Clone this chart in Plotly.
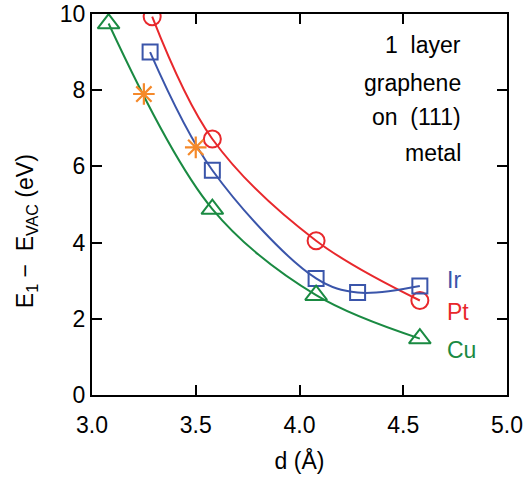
import plotly.graph_objects as go

# Data
pt_d = [3.29, 3.58, 4.08, 4.58]
pt_e = [9.93, 6.72, 4.05, 2.48]
ir_d = [3.28, 3.58, 4.08, 4.28, 4.58]
ir_e = [9.0, 5.9, 3.06, 2.69, 2.86]
cu_d = [3.08, 3.58, 4.08, 4.58]
cu_e = [9.75, 4.88, 2.62, 1.48]
star_d = [3.25, 3.50]
star_e = [7.9, 6.5]

RED = "#e8282c"
BLUE = "#3a55aa"
GREEN = "#1a8a42"
ORANGE = "#f5892a"
FONT = "Liberation Sans"

fig = go.Figure()

def add_series(x, y, color, symbol, size):
    fig.add_trace(go.Scatter(
        x=x, y=y, mode="lines+markers",
        line=dict(color=color, width=2, shape="spline", smoothing=1.0),
        marker=dict(symbol=symbol, size=size, color=color,
                    line=dict(color=color, width=2)),
        showlegend=False))

add_series(pt_d, pt_e, RED, "circle-open", 17)
add_series(ir_d, ir_e, BLUE, "square-open", 15)
add_series(cu_d, cu_e, GREEN, "triangle-up-open", 19)

fig.add_trace(go.Scatter(
    x=star_d, y=star_e, mode="markers",
    marker=dict(symbol="asterisk-open", size=18, color=ORANGE,
                line=dict(color=ORANGE, width=2.2)),
    showlegend=False))

# label annotations
for txt, yv, col in [("Ir", 3.02, BLUE), ("Pt", 2.18, RED), ("Cu", 1.18, GREEN)]:
    fig.add_annotation(x=4.70, y=yv, text=txt, showarrow=False, xanchor="left",
                       yanchor="middle", font=dict(family=FONT, size=23, color=col))

for txt, yv in [("1  layer", 9.19), ("graphene", 8.19), ("on  (111)", 7.30), ("metal", 6.35)]:
    fig.add_annotation(x=4.79, y=yv, text=txt, showarrow=False, xanchor="right",
                       yanchor="middle", font=dict(family=FONT, size=23, color="black"))

fig.add_annotation(xref="paper", yref="paper", x=-0.159, y=0.43, textangle=-90,
                   text="E<sub>1</sub> \u2212  E<sub>VAC</sub> (eV)", showarrow=False,
                   xanchor="center", yanchor="middle",
                   font=dict(family=FONT, size=23, color="black"))

axis_common = dict(showline=True, linecolor="black", linewidth=2, mirror="ticks",
                   ticks="inside", ticklen=10, tickwidth=1.5, tickcolor="black",
                   showgrid=False, zeroline=False, automargin=False,
                   tickfont=dict(family=FONT, size=23, color="black"))

fig.update_xaxes(range=[3.0, 5.0], tickvals=[3.0, 3.5, 4.0, 4.5, 5.0],
                 ticktext=["3.0", "3.5", "4.0", "4.5", "5.0"],
                 ticklabelstandoff=8,
                 title=dict(text="d (Å)", font=dict(family=FONT, size=23, color="black"),
                            standoff=16),
                 **axis_common)
fig.update_yaxes(range=[0, 10], tickvals=[0, 2, 4, 6, 8, 10],
                 ticktext=["0", "2", "4", "6", "8", "10"], **axis_common)

fig.update_layout(width=526, height=485, plot_bgcolor="white", paper_bgcolor="white",
                  margin=dict(l=92, r=19, t=14, b=90))

fig.write_html("out.html")
